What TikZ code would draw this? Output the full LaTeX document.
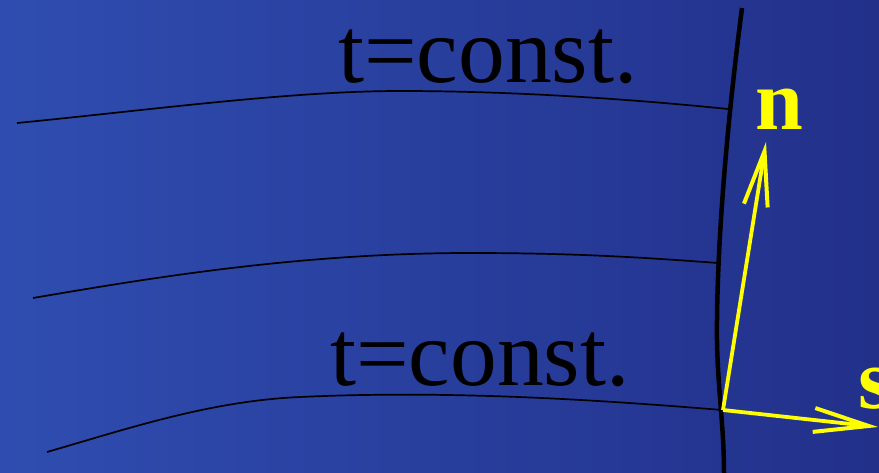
\documentclass[tikz,border=0pt]{standalone}
\usepackage{fontspec}
\setmainfont{Liberation Serif}
\usetikzlibrary{arrows.meta}
\definecolor{bgleft}{RGB}{47,77,176}
\definecolor{bgright}{RGB}{34,48,138}
\definecolor{vecyellow}{RGB}{255,255,0}
\tikzset{
  tline/.style={black,line width=1.7pt},
  worldline/.style={black,line width=4.5pt},
  vec/.style={vecyellow,line width=3.8pt,-{Straight Barb[length=55pt,width=24pt,line width=4pt]}},
  biglabel/.style={black,anchor=base west,inner sep=0pt,font=\fontsize{93.5}{94}\selectfont},
  veclabel/.style={vecyellow,anchor=base west,inner sep=0pt,font=\fontsize{86}{86}\selectfont\bfseries}
}
\begin{document}
\begin{tikzpicture}[x=1pt,y=-1pt]
\shade[left color=bgleft,right color=bgright] (0,0) rectangle (879,473);
\useasboundingbox (0,0) rectangle (879,473);
\draw[tline] (17,123) .. controls (150,110) and (290,91) .. (400,91) .. controls (520,91) and (640,100) .. (728,109);
\draw[tline] (33,298) .. controls (150,278) and (300,253) .. (470,253) .. controls (580,253) and (650,258) .. (718,263);
\draw[tline] (47,452) .. controls (130,428) and (210,401) .. (300,397) .. controls (450,390) and (600,400) .. (722,410);
\draw[worldline] (742,8) .. controls (730,100) and (718,220) .. (717,320) .. controls (716,380) and (724,420) .. (724,473);
\node[biglabel] (t1) at (338,83) {t=const.};
\node[biglabel] (t2) at (330,385) {t=const.};
\coordinate (o) at (723,410);
\coordinate (ntip) at (766,142);
\coordinate (stip) at (878,427);
\draw[vec] (o) -- (ntip);
\draw[vec] (o) -- (stip);
\node[veclabel] (n) at (755,130) {n};
\node[veclabel] (s) at (858,408) {s};
\end{tikzpicture}
\end{document}
